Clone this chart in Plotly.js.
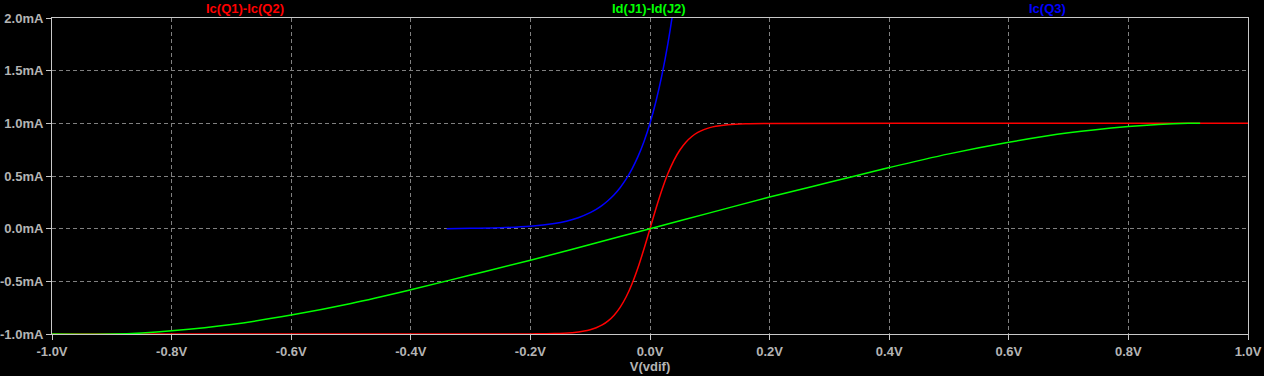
<!DOCTYPE html>
<html>
<head>
<meta charset="utf-8">
<script src="https://cdn.plot.ly/plotly-3.0.1.min.js"></script>
<style>html,body{margin:0;padding:0;background:#000;}#chart{width:1264px;height:376px;}</style>
</head>
<body>
<div id="chart"></div>
<script>
const seriesNames = ["Ic(Q1)-Ic(Q2)", "Id(J1)-Id(J2)", "Ic(Q3)"];
const redX = [-1, -0.5, -0.2, -0.16, -0.13, -0.11, -0.1, -0.09, -0.08, -0.07, -0.06, -0.05, -0.04, -0.03, -0.02, -0.01, 0, 0.01, 0.02, 0.03, 0.04, 0.05, 0.06, 0.07, 0.08, 0.09, 0.1, 0.11, 0.13, 0.16, 0.2, 0.5, 1];
const redY = [-1, -1, -0.999, -0.996, -0.987, -0.972, -0.959, -0.94, -0.914, -0.875, -0.821, -0.747, -0.649, -0.523, -0.369, -0.191, 0, 0.191, 0.369, 0.523, 0.649, 0.747, 0.821, 0.875, 0.914, 0.94, 0.959, 0.972, 0.987, 0.996, 0.999, 1, 1];
const greenX = [-1, -0.9, -0.85, -0.8, -0.7, -0.6, -0.5, -0.4, -0.3, -0.2, -0.1, 0, 0.1, 0.2, 0.3, 0.4, 0.5, 0.6, 0.7, 0.8, 0.85, 0.9, 0.92];
const greenY = [-1, -1, -0.99, -0.97, -0.91, -0.82, -0.71, -0.58, -0.44, -0.30, -0.15, 0, 0.15, 0.30, 0.44, 0.58, 0.71, 0.82, 0.91, 0.97, 0.99, 1.0, 1.0];
const blueX = [-0.34, -0.3, -0.25, -0.2, -0.16, -0.14, -0.12, -0.1, -0.09, -0.08, -0.07, -0.06, -0.05, -0.04, -0.03, -0.02, -0.01, 0, 0.01, 0.02, 0.03, 0.037, 0.05];
const blueY = [0, 0.0035, 0.009, 0.023, 0.049, 0.071, 0.104, 0.152, 0.183, 0.221, 0.267, 0.322, 0.389, 0.47, 0.568, 0.686, 0.828, 1.0, 1.21, 1.46, 1.76, 2.01, 2.57];
const xTickVals = [-1, -0.8, -0.6, -0.4, -0.2, 0, 0.2, 0.4, 0.6, 0.8, 1];
const xTickText = ["-1.0V", "-0.8V", "-0.6V", "-0.4V", "-0.2V", "0.0V", "0.2V", "0.4V", "0.6V", "0.8V", "1.0V"];
const yTickVals = [-1, -0.5, 0, 0.5, 1, 1.5, 2];
const yTickText = ["-1.0mA", "-0.5mA", "0.0mA", "0.5mA", "1.0mA", "1.5mA", "2.0mA"];
const colors = ["#ff0000", "#00ff00", "#0000ff"];
const labelPos = [0.1614, 0.499, 0.832];

const traces = [
  {x: redX, y: redY, name: seriesNames[0], type: 'scatter', mode: 'lines', line: {color: colors[0], width: 1.5, shape: 'spline'}},
  {x: greenX, y: greenY, name: seriesNames[1], type: 'scatter', mode: 'lines', line: {color: colors[1], width: 1.5, shape: 'spline'}},
  {x: blueX, y: blueY, name: seriesNames[2], type: 'scatter', mode: 'lines', line: {color: colors[2], width: 1.5, shape: 'spline'}}
];

const tickFont = {family: 'Liberation Sans, Arial, sans-serif', size: 13, color: '#b4b4b4', weight: 'bold'};
const layout = {
  width: 1264, height: 376,
  paper_bgcolor: '#000', plot_bgcolor: '#000',
  margin: {l: 52, r: 16, t: 18, b: 42},
  showlegend: false,
  xaxis: {
    range: [-1, 1], tickvals: xTickVals, ticktext: xTickText,
    showgrid: true, gridcolor: '#808080', griddash: '4px,3px', gridwidth: 1,
    zeroline: false, showline: true, linecolor: '#c8c8c8', linewidth: 1, mirror: true,
    ticks: 'outside', ticklen: 5, tickcolor: '#c8c8c8', tickfont: tickFont,
    title: {text: 'V(vdif)', font: tickFont, standoff: 2}
  },
  yaxis: {
    range: [-1, 2], tickvals: yTickVals, ticktext: yTickText,
    showgrid: true, gridcolor: '#808080', griddash: '4px,3px', gridwidth: 1,
    zeroline: false, showline: true, linecolor: '#c8c8c8', linewidth: 1, mirror: true,
    ticks: 'outside', ticklen: 5, tickcolor: '#c8c8c8', tickfont: tickFont
  },
  annotations: seriesNames.map((n, i) => ({
    text: n, xref: 'paper', yref: 'paper', x: labelPos[i], y: 1, yanchor: 'bottom', yshift: 0,
    xanchor: 'center', showarrow: false,
    font: {family: 'Liberation Sans, Arial, sans-serif', size: 13, color: colors[i], weight: 'bold'}
  }))
};
Plotly.newPlot('chart', traces, layout, {displayModeBar: false, staticPlot: true});
</script>
</body>
</html>
